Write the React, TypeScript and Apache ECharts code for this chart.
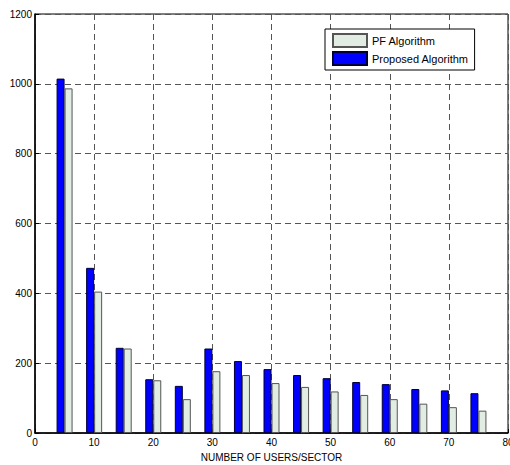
import React, { useEffect, useRef } from "react";
import * as echarts from "echarts";

const userCounts = [5, 10, 15, 20, 25, 30, 35, 40, 45, 50, 55, 60, 65, 70, 75];
const proposedValues = [1015, 473, 244, 154, 135, 242, 206, 183, 166, 157, 146, 140, 126, 122, 114];
const pfValues = [987, 405, 242, 151, 97, 177, 166, 143, 132, 119, 109, 97, 84, 74, 64];
const seriesNames = ["PF Algorithm", "Proposed Algorithm"];
const xAxisTitle = "NUMBER OF USERS/SECTOR";

export default function App() {
  const ref = useRef<HTMLDivElement>(null);
  useEffect(() => {
    if (!ref.current) return;
    const chart = echarts.init(ref.current, null, { renderer: "svg" });
    const font = "Liberation Sans, Arial, sans-serif";
    const gridLine = { show: true, lineStyle: { color: "#555", type: [6, 4] as any, width: 1 } };
    chart.setOption({
      animation: false,
      backgroundColor: "#fff",
      textStyle: { fontFamily: font },
      grid: {
        left: 35,
        right: 2,
        top: 14,
        bottom: 32,
        containLabel: false,
        outerBoundsMode: "none",
        show: true,
        borderColor: "#000",
        borderWidth: 1,
        backgroundColor: "#fff",
      },
      legend: {
        data: [seriesNames[0], seriesNames[1]],
        orient: "vertical",
        left: 325,
        top: 29,
        itemWidth: 34,
        itemHeight: 13,
        itemGap: 3,
        itemTextGap: 4,
        padding: [4, 6, 4, 7],
        backgroundColor: "#fff",
        borderColor: "#000",
        borderWidth: 1,
        borderRadius: 0,
        icon: "rect",
        textStyle: { fontSize: 11, color: "#000", fontFamily: font },
      },
      xAxis: {
        type: "value",
        min: 0,
        max: 80,
        interval: 10,
        name: xAxisTitle,
        nameLocation: "middle",
        nameGap: 19,
        nameTextStyle: { fontSize: 10, color: "#000", fontFamily: font },
        axisLine: { show: true, onZero: false, lineStyle: { color: "#000", width: 1.5 } },
        axisTick: { show: true, inside: true, length: 4, lineStyle: { color: "#000" } },
        axisLabel: { fontSize: 10, color: "#000", margin: 4, fontFamily: font, formatter: (v: number) => String(v) },
        splitLine: gridLine,
      },
      yAxis: {
        type: "value",
        min: 0,
        max: 1200,
        interval: 200,
        axisLine: { show: true, lineStyle: { color: "#000", width: 1.5 } },
        axisTick: { show: true, inside: true, length: 4, lineStyle: { color: "#000" } },
        axisLabel: { fontSize: 10, color: "#000", margin: 3, fontFamily: font, formatter: (v: number) => String(v) },
        splitLine: gridLine,
      },
      series: [
        {
          name: seriesNames[1],
          type: "bar",
          barWidth: 8,
          barGap: "0%",
          data: userCounts.map((x, i) => [x, proposedValues[i]]),
          itemStyle: { color: "#0000ff", borderColor: "#000033", borderWidth: 1 },
        },
        {
          name: seriesNames[0],
          type: "bar",
          barWidth: 8,
          barGap: "0%",
          data: userCounts.map((x, i) => [x, pfValues[i]]),
          itemStyle: { color: "#e1ece2", borderColor: "#555", borderWidth: 1 },
        },
      ],
    });
    return () => chart.dispose();
  }, []);
  return (
    <div
      ref={ref}
      style={{ position: "fixed", left: 0, top: 0, width: 510, height: 465 }}
    />
  );
}
